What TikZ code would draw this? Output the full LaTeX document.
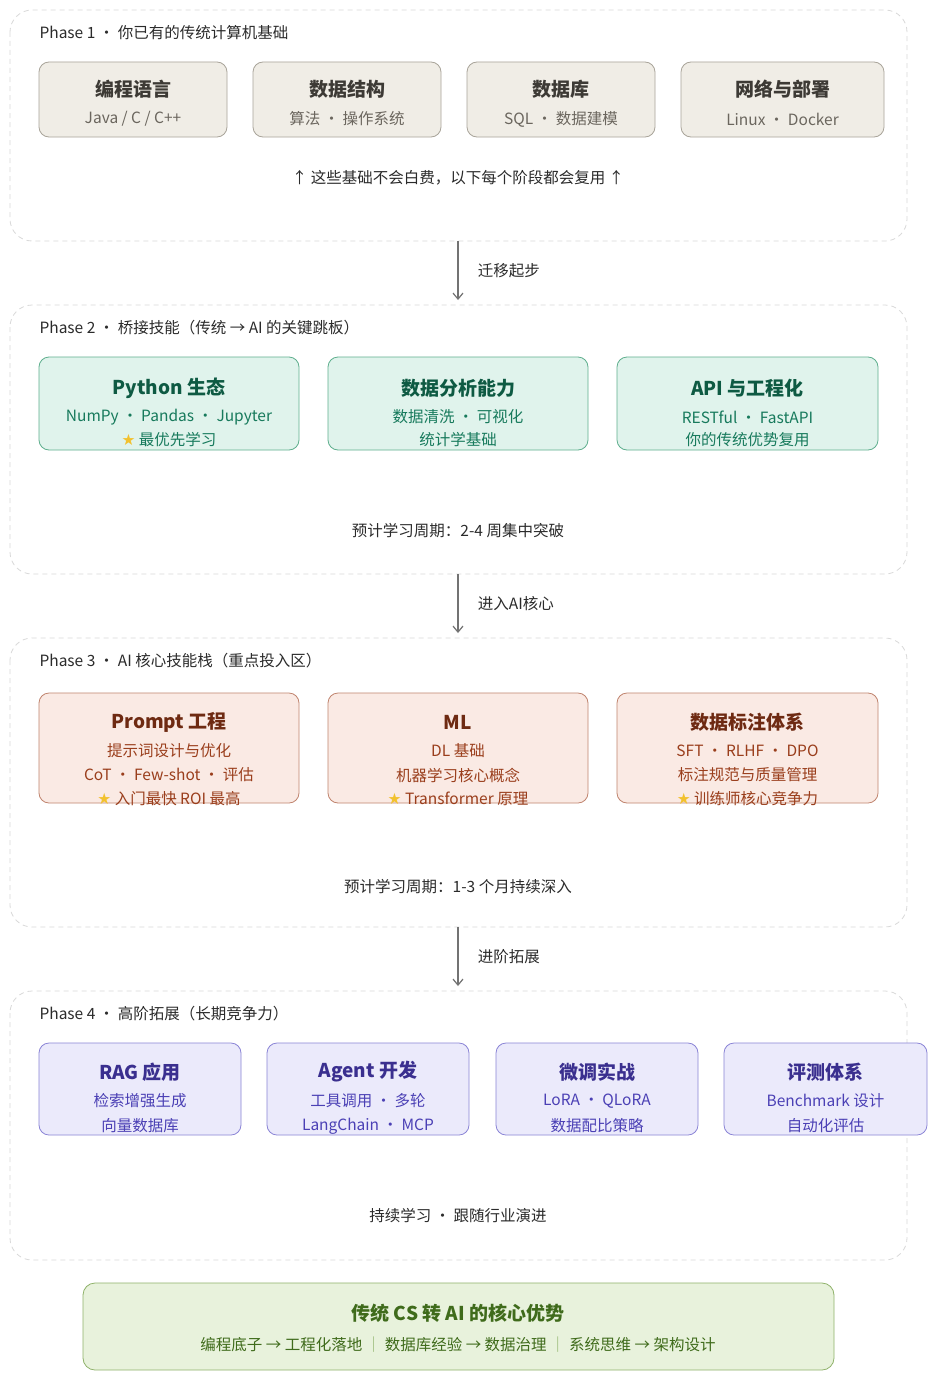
\documentclass[tikz,border=0pt]{standalone}
\usepackage{fontspec}
\setmainfont{Noto Sans CJK SC}
\newfontfamily\symf{DejaVu Sans}
\usetikzlibrary{arrows.meta}
\definecolor{aF}{HTML}{F0EDE6}\definecolor{aB}{HTML}{A9A49A}\definecolor{aT}{HTML}{3D3A35}\definecolor{aS}{HTML}{6B665E}
\definecolor{bF}{HTML}{E0F3EC}\definecolor{bB}{HTML}{5FAF8E}\definecolor{bT}{HTML}{0E5A43}\definecolor{bS}{HTML}{177A5C}
\definecolor{cF}{HTML}{FAEAE4}\definecolor{cB}{HTML}{C0846E}\definecolor{cT}{HTML}{6E2A12}\definecolor{cS}{HTML}{9A3E1C}
\definecolor{dF}{HTML}{EBEAFB}\definecolor{dB}{HTML}{8A84D6}\definecolor{dT}{HTML}{3A2F8F}\definecolor{dS}{HTML}{4B40B5}
\definecolor{eF}{HTML}{E8F2DC}\definecolor{eB}{HTML}{8FB26A}\definecolor{eT}{HTML}{3F6B1B}
\definecolor{txt}{HTML}{2B2B2B}\definecolor{gold}{HTML}{F2C12E}
\newcommand{\strs}{{\symf\color{gold}★}\ }
\tikzset{
 phasebox/.style={draw=black!15,dashed,dash pattern=on 5pt off 4pt,rounded corners=22pt,line width=0.8pt},
 card/.style={rounded corners=10pt,line width=0.8pt},
 ttl/.style={font=\fontsize{19}{22}\selectfont\bfseries,anchor=center},
 sub/.style={font=\fontsize{15.5}{18}\selectfont,anchor=center},
 plab/.style={font=\fontsize{15.5}{18}\selectfont,anchor=west,text=txt},
 note/.style={font=\fontsize{15.5}{18}\selectfont,anchor=center,text=txt},
 conn/.style={draw=black!55,line width=1.2pt,-{Straight Barb[length=6pt,width=10pt]}}
}
\begin{document}
\begin{tikzpicture}[x=1pt,y=-1pt]
\useasboundingbox[fill=white] (0,0) rectangle (936,1389);
% phases
\draw[phasebox] (10,10) rectangle (907,241) coordinate (p1b);
\draw[phasebox] (10,305) rectangle (907,574);
\draw[phasebox] (10,638) rectangle (907,927);
\draw[phasebox] (10,991) rectangle (907,1260);
\coordinate (p1) at (458,241); \coordinate (p2t) at (458,300);
\coordinate (p2) at (458,574); \coordinate (p3t) at (458,633);
\coordinate (p3) at (458,927); \coordinate (p4t) at (458,986);
\draw[conn] (p1) -- (p2t) node[midway,right=16pt,note,anchor=west]{迁移起步};
\draw[conn] (p2) -- (p3t) node[midway,right=16pt,note,anchor=west]{进入AI核心};
\draw[conn] (p3) -- (p4t) node[midway,right=16pt,note,anchor=west]{进阶拓展};
\node[plab] (l1) at (36,33) {Phase 1 · 你已有的传统计算机基础};
\node[plab] (l2) at (36,328) {Phase 2 · 桥接技能（传统 → AI 的关键跳板）};
\node[plab] (l3) at (36,661) {Phase 3 · AI 核心技能栈（重点投入区）};
\node[plab] (l4) at (36,1014) {Phase 4 · 高阶拓展（长期竞争力）};
% phase1
\foreach \xa/\xb/\t/\s [count=\i] in {39/227/编程语言/{Java / C / C++},253/441/数据结构/算法 · 操作系统,467/655/数据库/SQL · 数据建模,681/884/网络与部署/Linux · Docker}{
 \draw[card,fill=aF,draw=aB] (\xa,62) rectangle (\xb,137);
 \node[ttl,text=aT] (a\i) at ({(\xa+\xb)/2},89) {\t};
 \node[sub,text=aS] (as\i) at ({(\xa+\xb)/2},119) {\s};}
\node[note] (n1) at (458,178) {↑ 这些基础不会白费，以下每个阶段都会复用 ↑};
% phase2
\foreach \xa/\xb/\t/\s/\u [count=\i] in {39/299/Python 生态/NumPy · Pandas · Jupyter/\strs 最优先学习,328/588/数据分析能力/数据清洗 · 可视化/统计学基础,617/878/API 与工程化/RESTful · FastAPI/你的传统优势复用}{
 \draw[card,fill=bF,draw=bB] (\xa,357) rectangle (\xb,450);
 \node[ttl,text=bT] (b\i) at ({(\xa+\xb)/2},388) {\t};
 \node[sub,text=bS] (bs\i) at ({(\xa+\xb)/2},417) {\s};
 \node[sub,text=bS] (bu\i) at ({(\xa+\xb)/2},440) {\u};}
\node[note] (n2) at (458,531) {预计学习周期：2-4 周集中突破};
% phase3
\foreach \xa/\xb/\t/\s/\u/\v [count=\i] in {39/299/Prompt 工程/提示词设计与优化/CoT · Few-shot · 评估/入门最快 ROI 最高,328/588/ML / DL 基础/机器学习核心概念/Transformer 原理/理解即可不求精通,617/878/数据标注体系/SFT · RLHF · DPO/标注规范与质量管理/训练师核心竞争力}{
 \draw[card,fill=cF,draw=cB] (\xa,693) rectangle (\xb,803);
 \node[ttl,text=cT] (c\i) at ({(\xa+\xb)/2},722) {\t};
 \node[sub,text=cS] (cs\i) at ({(\xa+\xb)/2},751) {\s};
 \node[sub,text=cS] (cu\i) at ({(\xa+\xb)/2},775) {\u};
 \node[sub,text=cS] (cv\i) at ({(\xa+\xb)/2},799) {\strs\v};}
\node[note] (n3) at (458,887) {预计学习周期：1-3 个月持续深入};
% phase4
\foreach \xa/\xb/\t/\s/\u [count=\i] in {39/241/RAG 应用/检索增强生成/向量数据库,267/469/Agent 开发/工具调用 · 多轮/LangChain · MCP,496/698/微调实战/LoRA · QLoRA/数据配比策略,724/927/评测体系/Benchmark 设计/自动化评估}{
 \draw[card,fill=dF,draw=dB] (\xa,1043) rectangle (\xb,1135);
 \node[ttl,text=dT] (d\i) at ({(\xa+\xb)/2},1072) {\t};
 \node[sub,text=dS] (ds\i) at ({(\xa+\xb)/2},1101) {\s};
 \node[sub,text=dS] (du\i) at ({(\xa+\xb)/2},1126) {\u};}
\node[note] (n4) at (458,1216) {持续学习 · 跟随行业演进};
% bottom
\draw[card,fill=eF,draw=eB,rounded corners=12pt] (83,1283) rectangle (834,1370);
\node[ttl,text=eT] (e1) at (458,1313) {传统 CS 转 AI 的核心优势};
\node[sub,text=eT] (e2) at (458,1345) {编程底子 → 工程化落地 \textcolor{eB}{｜} 数据库经验 → 数据治理 \textcolor{eB}{｜} 系统思维 → 架构设计};
\end{tikzpicture}
\end{document}
